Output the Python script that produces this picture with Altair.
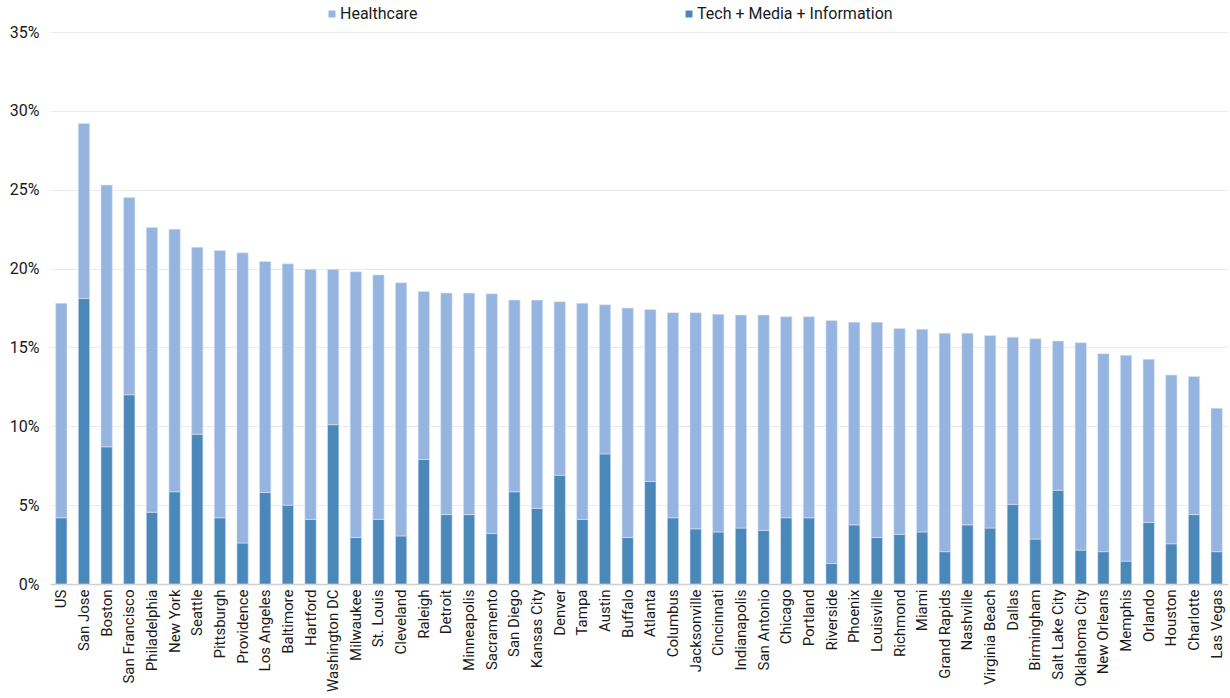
import altair as alt
import pandas as pd

# Metro areas, in display order
cities = [
    "US", "San Jose", "Boston", "San Francisco", "Philadelphia", "New York",
    "Seattle", "Pittsburgh", "Providence", "Los Angeles", "Baltimore", "Hartford",
    "Washington DC", "Milwaukee", "St. Louis", "Cleveland", "Raleigh", "Detroit",
    "Minneapolis", "Sacramento", "San Diego", "Kansas City", "Denver", "Tampa",
    "Austin", "Buffalo", "Atlanta", "Columbus", "Jacksonville", "Cincinnati",
    "Indianapolis", "San Antonio", "Chicago", "Portland", "Riverside", "Phoenix",
    "Louisville", "Richmond", "Miami", "Grand Rapids", "Nashville", "Virginia Beach",
    "Dallas", "Birmingham", "Salt Lake City", "Oklahoma City", "New Orleans",
    "Memphis", "Orlando", "Houston", "Charlotte", "Las Vegas",
]

# Share of employment (%), tech + media + information
tech = [
    4.2, 18.1, 8.7, 12.0, 4.55, 5.85,
    9.5, 4.2, 2.6, 5.8, 5.0, 4.1,
    10.1, 2.95, 4.1, 3.05, 7.9, 4.4,
    4.4, 3.2, 5.85, 4.8, 6.9, 4.1,
    8.25, 2.95, 6.5, 4.2, 3.5, 3.3,
    3.55, 3.4, 4.2, 4.2, 1.3, 3.75,
    2.95, 3.15, 3.3, 2.05, 3.75, 3.55,
    5.05, 2.85, 5.95, 2.15, 2.05,
    1.45, 3.9, 2.55, 4.4, 2.05,
]

# Share of employment (%), healthcare
healthcare = [
    13.6, 11.1, 16.6, 12.5, 18.05, 16.65,
    11.85, 16.95, 18.4, 14.65, 15.3, 15.85,
    9.85, 16.85, 15.5, 16.05, 10.65, 14.05,
    14.05, 15.2, 12.15, 13.2, 11.0, 13.7,
    9.45, 14.55, 10.9, 13.0, 13.7, 13.8,
    13.5, 13.65, 12.75, 12.75, 15.4, 12.85,
    13.65, 13.05, 12.85, 13.85, 12.15, 12.2,
    10.6, 12.7, 9.45, 13.15, 12.55,
    13.05, 10.35, 10.7, 8.75, 9.1,
]

series = ["Healthcare", "Tech + Media + Information"]
colors = ["#95B4DF", "#4B88BA"]

rows = []
for i, c in enumerate(cities):
    rows.append({"city": c, "sector": series[1], "value": tech[i], "stack": 0})
    rows.append({"city": c, "sector": series[0], "value": healthcare[i], "stack": 1})
df = pd.DataFrame(rows)

font = "Roboto"
ink = "#1a1a1a"

chart = (
    alt.Chart(df)
    .mark_bar(stroke="#DCE6F4", strokeWidth=0.6)
    .encode(
        x=alt.X(
            "city:N",
            sort=cities,
            title=None,
            scale=alt.Scale(paddingInner=0.5, paddingOuter=0.25),
            axis=alt.Axis(
                labelAngle=-90,
                labelFontSize=15,
                labelFont=font,
                labelColor=ink,
                labelPadding=5,
                ticks=False,
                domainColor="#D0D0D0",
                domainWidth=1.5,
                grid=False,
                labelOverlap=False,
            ),
        ),
        y=alt.Y(
            "value:Q",
            stack="zero",
            title=None,
            scale=alt.Scale(domain=[0, 35], nice=False),
            axis=alt.Axis(
                values=[0, 5, 10, 15, 20, 25, 30, 35],
                labelExpr="datum.value + '%'",
                labelFontSize=16,
                labelFont=font,
                labelColor=ink,
                labelPadding=11,
                ticks=False,
                domain=False,
                gridColor="#EBEBEB",
                gridWidth=1.2,
            ),
        ),
        color=alt.Color(
            "sector:N",
            scale=alt.Scale(domain=series, range=colors),
            legend=alt.Legend(
                title=None,
                orient="none",
                direction="horizontal",
                legendX=274,
                legendY=-26,
                symbolType="square",
                symbolSize=49,
                symbolStrokeWidth=0,
                labelFontSize=16,
                labelFont=font,
                labelColor=ink,
                labelLimit=0,
                labelOffset=0,
                columnPadding=263,
            ),
        ),
        order=alt.Order("stack:Q", sort="ascending"),
    )
    .properties(
        width=1178,
        height=552,
        autosize="none",
        background="white",
        padding={"left": 50, "top": 32, "right": 2, "bottom": 114},
    )
    .configure_view(strokeWidth=0)
)

chart.save("out.html", embed_options={"renderer": "svg", "actions": False})
